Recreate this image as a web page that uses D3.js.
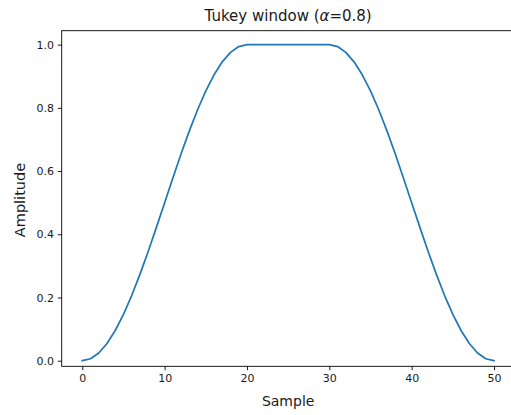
<!DOCTYPE html>
<html>
<head>
<meta charset="utf-8">
<script src="https://cdn.jsdelivr.net/npm/d3@7"></script>
<style>
  html, body { margin: 0; padding: 0; background: #fff; }
  svg { display: block; font-family: "DejaVu Sans", sans-serif; }
</style>
</head>
<body>
<svg id="chart" width="511" height="415"></svg>
<script>
// Tukey window, 51 samples, alpha = 0.8
const samples = d3.range(0, 51);
const amplitude = [
  0.0000, 0.0062, 0.0245, 0.0545, 0.0955, 0.1464, 0.2061, 0.2730, 0.3455, 0.4218,
  0.5000, 0.5782, 0.6545, 0.7270, 0.7939, 0.8536, 0.9045, 0.9455, 0.9755, 0.9938,
  1.0000, 1.0000, 1.0000, 1.0000, 1.0000, 1.0000, 1.0000, 1.0000, 1.0000, 1.0000,
  1.0000, 0.9938, 0.9755, 0.9455, 0.9045, 0.8536, 0.7939, 0.7270, 0.6545, 0.5782,
  0.5000, 0.4218, 0.3455, 0.2730, 0.2061, 0.1464, 0.0955, 0.0545, 0.0245, 0.0062,
  0.0000
];
const xTicks = [0, 10, 20, 30, 40, 50];
const yTicks = [0.0, 0.2, 0.4, 0.6, 0.8, 1.0];

const svg = d3.select("#chart");
const plot = { left: 61.7, right: 514.6, top: 30.7, bottom: 366.3 };

const x = d3.scaleLinear().domain([-2.5, 52.5]).range([plot.left, plot.right]);
const y = d3.scaleLinear().domain([0, 1]).range([360.7, 44.6]);

const textColor = "#1a1a1a";

// x axis
const xAxis = svg.append("g")
  .attr("transform", `translate(0,${plot.bottom})`)
  .call(d3.axisBottom(x).tickValues(xTicks).tickFormat(d3.format("d"))
    .tickSize(3.9).tickPadding(3.6));
xAxis.select(".domain").remove();
xAxis.selectAll(".tick line").attr("stroke", "#000").attr("stroke-width", 0.9);
xAxis.selectAll(".tick text").attr("fill", textColor)
  .style("font-size", "11px").style("font-family", "DejaVu Sans");

// y axis
const yAxis = svg.append("g")
  .attr("transform", `translate(${plot.left},0)`)
  .call(d3.axisLeft(y).tickValues(yTicks).tickFormat(d3.format(".1f"))
    .tickSize(3.9).tickPadding(3.8));
yAxis.select(".domain").remove();
yAxis.selectAll(".tick line").attr("stroke", "#000").attr("stroke-width", 0.9);
yAxis.selectAll(".tick text").attr("fill", textColor)
  .style("font-size", "11px").style("font-family", "DejaVu Sans");

// curve
const line = d3.line()
  .x((d, i) => x(samples[i]))
  .y(d => y(d));
svg.append("path")
  .datum(amplitude)
  .attr("fill", "none")
  .attr("stroke", "#1f77b4")
  .attr("stroke-width", 1.7)
  .attr("stroke-linejoin", "round")
  .attr("stroke-linecap", "square")
  .attr("d", line);

// frame
svg.append("rect")
  .attr("x", plot.left).attr("y", plot.top)
  .attr("width", plot.right - plot.left).attr("height", plot.bottom - plot.top)
  .attr("fill", "none").attr("stroke", "#000").attr("stroke-width", 0.9);

// title
const title = svg.append("text")
  .attr("x", (plot.left + plot.right) / 2).attr("y", 21)
  .attr("text-anchor", "middle")
  .attr("fill", textColor)
  .style("font-size", "15px");
title.append("tspan").text("Tukey window (");
title.append("tspan").attr("font-style", "italic").text("α");
title.append("tspan").text("=0.8)");

// axis labels
svg.append("text")
  .attr("x", (plot.left + plot.right) / 2).attr("y", 406)
  .attr("text-anchor", "middle")
  .attr("fill", textColor)
  .style("font-size", "14px")
  .text("Sample");

svg.append("text")
  .attr("transform", `translate(24.5,200) rotate(-90)`)
  .attr("text-anchor", "middle")
  .attr("fill", textColor)
  .style("font-size", "14.5px")
  .text("Amplitude");
</script>
</body>
</html>
